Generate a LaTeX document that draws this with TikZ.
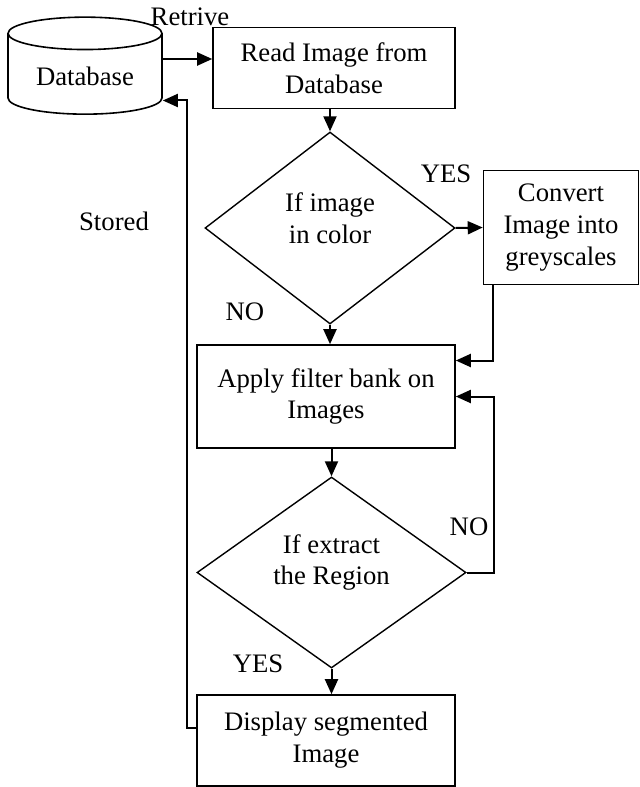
\documentclass[tikz,border=0pt]{standalone}
\usepackage{fontspec}
\setmainfont{Liberation Serif}
\usetikzlibrary{shapes.geometric,arrows.meta}

\begin{document}
\begin{tikzpicture}[x=1bp,y=-1bp,
  font=\fontsize{26.8}{32}\selectfont,
  box/.style={draw,line width=1.6bp,align=center,inner sep=0pt},
  decision/.style={draw,diamond,line width=1.4bp,inner sep=0pt},
  inside/.style={align=center,yshift=10bp},
  arr/.style={line width=2bp,-{Triangle[length=15bp,width=13bp]}}]
\useasboundingbox (0,0) rectangle (640,787);
% store and steps
\node[draw,cylinder,shape border rotate=90,aspect=0.31,minimum width=154bp,minimum height=97bp,line width=1.6bp] (db) at (85,76.5) {Database};
\node[box,minimum width=242bp,minimum height=81bp] (read) at (334,68) {Read Image from\\Database};
\node[decision,minimum width=250bp,minimum height=192bp,label={[inside]center:If image\\in color}] (d1) at (330,228) {};
\node[box,minimum width=155bp,minimum height=114bp] (conv) at (561,227.5) {Convert\\Image into\\greyscales};
\node[box,minimum width=258bp,minimum height=103bp] (apply) at (326,396.5) {Apply filter bank on\\Images};
\node[decision,minimum width=269bp,minimum height=191bp,label={[inside]center:If extract\\the Region}] (d2) at (331.5,572.5) {};
\node[box,minimum width=258bp,minimum height=91bp] (disp) at (326,740.5) {Display segmented\\Image};
% labels
\node (retrive) at (190,17) {Retrive};
\node (stored) at (114,221) {Stored};
\node (yes1) at (446,174) {YES};
\node (no1) at (245,312) {NO};
\node (no2) at (469,527) {NO};
\node (yes2) at (258,664) {YES};
% connectors
\coordinate (rin) at ([yshift=9bp]read.west);
\coordinate (dbin) at ([yshift=-24bp]db.east);
\draw[arr] (rin -| db.east) -- (rin);
\draw[arr] (read.south -| d1.north) -- (d1.north);
\draw[arr] (d1.east) -- (conv.west);
\draw[arr] (d1.south) -- (d1.south |- apply.north);
\draw[arr] ([xshift=10bp]conv.south west) |- ([yshift=36bp]apply.east);
\draw[arr] (apply.south -| d2.north) -- (d2.north);
\draw[arr] (d2.east) -- ++(27,0) |- (apply.east);
\draw[arr] (d2.south) -- (d2.south |- disp.north);
\draw[arr] ([yshift=13bp]disp.west) -- ++(-9,0) |- (dbin);
\end{tikzpicture}
\end{document}
